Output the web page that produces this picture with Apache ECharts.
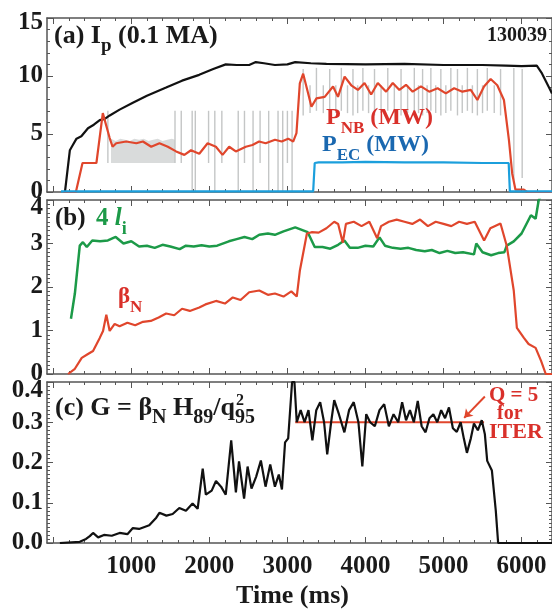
<!DOCTYPE html>
<html><head><meta charset="utf-8">
<script src="https://cdn.jsdelivr.net/npm/echarts@6/dist/echarts.min.js"></script>
<style>html,body{margin:0;padding:0;background:#fff}#c{width:552px;height:610px}</style>
</head><body><div id="c"></div>
<script>
const F = 'Liberation Serif';
const RED = '#e0462c', BLUE = '#1b9fdc', GREEN = '#1c9a48', GRAY = '#c4c6c6';
const TXT_RED = '#d9302a', TXT_BLUE = '#1a68b0';

// x axis ticks
const xTickMajor = [0, 1000, 2000, 3000, 4000, 5000, 6000];
const xLabels = [1000, 2000, 3000, 4000, 5000, 6000];
const xMinor = [200, 400, 600, 800, 1200, 1400, 1600, 1800, 2200, 2400, 2600, 2800, 3200, 3400, 3600, 3800, 4200, 4400, 4600, 4800, 5200, 5400, 5600, 5800, 6200];

// (a) plasma current Ip (0.1 MA)
const ipT = [150, 213, 238, 298, 360, 445, 520, 596, 660, 724, 850, 1020, 1200, 1446, 1650, 1870, 2050, 2210, 2350, 2510, 2595, 2700, 2840, 3000, 3100, 3300, 3500, 4000, 4500, 5000, 5500, 5800, 6000, 6195, 6255, 6360, 6390];
const ipV = [0, 3.6, 3.9, 4.6, 4.8, 5.5, 5.8, 6.2, 6.3, 6.6, 7.1, 7.7, 8.3, 9.0, 9.6, 10.1, 10.6, 11.0, 10.95, 10.95, 11.2, 11.1, 10.95, 11.0, 11.2, 11.1, 11.05, 11.0, 11.05, 10.95, 10.95, 10.9, 10.85, 10.9, 10.3, 8.9, 8.5];

// (a) P_NB (MW)
const nbT = [130, 290, 375, 553, 635, 723, 760, 807, 935, 1064, 1149, 1255, 1361, 1468, 1574, 1680, 1765, 1871, 1978, 2084, 2169, 2254, 2339, 2467, 2552, 2637, 2722, 2841, 2926, 3010, 3074, 3116, 3159, 3202, 3266, 3308, 3372, 3478, 3585, 3648, 3733, 3818, 3903, 3988, 4073, 4158, 4265, 4350, 4435, 4520, 4605, 4711, 4817, 4924, 5030, 5136, 5242, 5349, 5434, 5519, 5604, 5689, 5774, 5838, 5880, 5922, 6029, 6071, 6390];
const nbV = [0, 0, 2.5, 2.5, 6.8, 4.65, 3.9, 4.2, 4.35, 4.2, 4.35, 3.9, 4.2, 3.9, 3.5, 3.2, 3.6, 3.3, 4.2, 3.9, 3.2, 3.9, 3.5, 3.9, 4.05, 4.35, 4.2, 4.5, 4.35, 4.6, 4.35, 5.07, 9.37, 10.2, 8.5, 7.35, 8.07, 8.2, 9.1, 8.2, 9.94, 9.2, 8.8, 9.4, 8.4, 9.4, 8.65, 9.4, 8.8, 9.24, 8.65, 9.1, 8.65, 8.94, 8.5, 8.94, 8.65, 8.8, 7.93, 9.1, 9.74, 9.2, 7.93, 4.5, 1.6, 0.2, 0.2, 0, 0];

// (a) P_EC (MW)
const ecT = [100, 3330, 3350, 3400, 3700, 4000, 4500, 5000, 5500, 5835, 5850, 6390];
const ecV = [0.05, 0.05, 2.5, 2.55, 2.55, 2.6, 2.55, 2.55, 2.5, 2.5, 0.05, 0.05];

// (a) raw modulated NB power (grey): dense band and individual pulses
const bandT = [740, 800, 860, 920, 980, 1040, 1100, 1160, 1220, 1280, 1340, 1400, 1460, 1520, 1560];
const bandLo = [2.5, 2.5, 2.5, 2.5, 2.5, 2.5, 2.5, 2.5, 2.5, 2.5, 2.5, 2.5, 2.5, 2.5, 2.5];
const bandHi = [4.6, 4.4, 4.6, 4.5, 4.4, 4.6, 4.5, 4.6, 4.4, 4.5, 4.6, 4.4, 4.5, 4.6, 4.5];
const pulseT = [700, 1560, 1640, 1780, 1820, 1990, 2070, 2160, 2370, 2450, 2560, 2650, 2760, 2880, 2940, 3000, 3060,
  3202, 3290, 3372, 3460, 3542, 3620, 3691, 3770, 3840, 3900, 3967, 4040, 4116, 4200, 4286, 4370, 4456, 4540, 4626, 4680, 4732, 4790, 4838, 4900, 4966, 5030, 5094, 5179, 5240, 5306, 5370, 5434, 5500, 5561, 5650, 5731, 5901, 6008];
const pulseLo = [2.5, 2.5, 2.5, 0, 0, 2.5, 0, 2.5, 0, 2.5, 0, 2.5, 0, 0, 0, 2.5, 0,
  6.6, 6.8, 7.0, 6.8, 6.6, 6.8, 7.0, 6.8, 6.6, 6.8, 7.0, 6.8, 6.6, 6.8, 7.0, 6.8, 6.6, 6.8, 7.0, 6.8, 6.6, 6.8, 7.0, 6.8, 6.6, 6.8, 7.0, 6.6, 6.8, 7.0, 6.8, 6.6, 6.8, 7.0, 6.8, 6.6, 1.0, 1.2];
const pulseHi = [7.0, 7.0, 7.0, 7.0, 7.0, 7.0, 7.0, 7.0, 7.0, 7.0, 7.0, 7.0, 7.0, 7.0, 7.0, 7.0, 7.0,
  10.6, 9.2, 10.7, 9.2, 10.6, 9.2, 10.7, 9.2, 10.6, 9.2, 10.7, 9.2, 10.6, 9.2, 10.7, 9.2, 10.6, 9.2, 10.7, 9.2, 10.6, 9.2, 10.7, 9.2, 10.6, 9.2, 10.7, 10.6, 9.2, 10.7, 9.2, 10.6, 9.2, 10.7, 9.2, 10.6, 10.7, 10.6];

// (b) 4 li
const liT = [227, 277, 340, 380, 430, 500, 600, 700, 800, 900, 1000, 1100, 1200, 1300, 1400, 1500, 1620, 1700, 1800, 1900, 2000, 2100, 2250, 2350, 2450, 2550, 2640, 2750, 2840, 2950, 3100, 3260, 3350, 3450, 3550, 3650, 3730, 3800, 3900, 4000, 4100, 4180, 4250, 4350, 4450, 4550, 4650, 4760, 4850, 4950, 5050, 5150, 5250, 5390, 5420, 5500, 5610, 5700, 5780, 5810, 5900, 6000, 6120, 6180, 6220, 6300];
const liV = [1.27, 1.85, 2.95, 3.03, 2.92, 3.07, 3.05, 3.07, 3.15, 3.0, 3.05, 2.93, 2.95, 2.9, 2.97, 2.93, 2.87, 2.95, 2.93, 2.96, 2.93, 2.95, 3.05, 3.1, 3.15, 3.1, 3.2, 3.23, 3.2, 3.28, 3.37, 3.26, 2.92, 2.92, 2.88, 2.97, 3.07, 2.9, 2.9, 2.95, 2.93, 3.14, 2.95, 2.9, 2.88, 2.9, 2.85, 2.82, 2.85, 2.78, 2.83, 2.78, 2.8, 2.75, 3.0, 2.8, 2.73, 2.78, 2.8, 2.95, 3.05, 3.23, 3.65, 3.57, 4.0, 4.25];

// (b) beta_N
const betaT = [190, 277, 365, 445, 510, 596, 638, 680, 723, 787, 850, 950, 1050, 1150, 1250, 1350, 1446, 1550, 1650, 1750, 1871, 1950, 2085, 2200, 2300, 2400, 2510, 2640, 2750, 2840, 2950, 3050, 3120, 3160, 3250, 3310, 3400, 3500, 3600, 3650, 3710, 3750, 3850, 3950, 4050, 4150, 4200, 4300, 4400, 4500, 4600, 4700, 4800, 4900, 5000, 5100, 5200, 5300, 5400, 5520, 5600, 5730, 5810, 5900, 5940, 6030, 6090, 6180, 6250, 6310, 6390];
const betaV = [0, 0.12, 0.37, 0.46, 0.53, 0.83, 0.99, 1.36, 0.99, 1.15, 1.1, 1.18, 1.12, 1.2, 1.22, 1.3, 1.39, 1.35, 1.5, 1.45, 1.53, 1.6, 1.68, 1.62, 1.76, 1.7, 1.88, 1.92, 1.82, 1.85, 1.78, 1.9, 1.78, 2.38, 3.23, 3.26, 3.25, 3.35, 3.5, 3.45, 3.02, 3.45, 3.5, 3.4, 3.5, 3.12, 3.4, 3.5, 3.55, 3.5, 3.45, 3.55, 3.4, 3.5, 3.45, 3.4, 3.5, 3.45, 3.5, 3.07, 3.35, 3.46, 2.95, 1.92, 1.06, 0.83, 0.69, 0.6, 0.3, 0, 0];

// (c) G = beta_N H89 / q95^2
const gT = [85, 340, 420, 468, 510, 575, 650, 750, 850, 950, 1020, 1100, 1230, 1320, 1360, 1450, 1530, 1615, 1700, 1785, 1850, 1915, 1955, 2030, 2085, 2150, 2210, 2280, 2340, 2380, 2445, 2490, 2540, 2600, 2660, 2720, 2780, 2840, 2890, 2930, 2970, 3010, 3060, 3090, 3120, 3170, 3220, 3270, 3320, 3370, 3420, 3470, 3510, 3560, 3600, 3660, 3730, 3790, 3850, 3910, 3960, 4010, 4060, 4120, 4180, 4240, 4300, 4360, 4420, 4470, 4520, 4570, 4620, 4670, 4720, 4770, 4820, 4870, 4920, 4970, 5020, 5070, 5120, 5170, 5220, 5260, 5300, 5350, 5390, 5440, 5490, 5530, 5560, 5620, 5670, 5700, 6390];
const gV = [0, 0.003, 0.01, 0.017, 0.025, 0.014, 0.02, 0.018, 0.025, 0.022, 0.037, 0.035, 0.044, 0.063, 0.075, 0.068, 0.072, 0.087, 0.08, 0.098, 0.085, 0.185, 0.12, 0.13, 0.154, 0.14, 0.12, 0.255, 0.126, 0.203, 0.11, 0.19, 0.135, 0.165, 0.205, 0.14, 0.195, 0.14, 0.17, 0.133, 0.25, 0.26, 0.4, 0.4, 0.3, 0.33, 0.3, 0.33, 0.255, 0.33, 0.35, 0.3, 0.22, 0.3, 0.355, 0.32, 0.275, 0.33, 0.35, 0.3, 0.19, 0.32, 0.3, 0.29, 0.33, 0.345, 0.29, 0.32, 0.3, 0.35, 0.305, 0.33, 0.3, 0.353, 0.29, 0.275, 0.31, 0.32, 0.3, 0.33, 0.31, 0.337, 0.285, 0.276, 0.3, 0.26, 0.224, 0.26, 0.297, 0.28, 0.305, 0.27, 0.204, 0.18, 0.08, 0, 0];

// Q = 5 for ITER reference level
const qT = [3100, 5520];
const qV = [0.3, 0.3];
const arrowFrom = [5530, 0.364];
const arrowTo = [5265, 0.311];

const zip = (a, b) => a.map((t, i) => [t, b[i]]);

const chart = echarts.init(document.getElementById('c'), null, {renderer: 'canvas'});

const AX = '#555';
const XMIN = -80, XMAX = 6390;
const grids = [
  {left: 47, top: 18, width: 507, height: 174},
  {left: 47, top: 200, width: 507, height: 174},
  {left: 47, top: 382, width: 507, height: 173}
];
const labelFont = {fontFamily: F, fontWeight: 'bold', fontSize: 25, color: '#1a1a1a'};

const xAxis = [];
grids.forEach((g, i) => {
  const base = {type: 'value', gridIndex: i, min: XMIN, max: XMAX, splitLine: {show: false}};
  xAxis.push(Object.assign({}, base, {
    position: 'bottom',
    axisLine: {show: true, onZero: false, lineStyle: {color: AX, width: 1.5}},
    axisTick: {show: true, inside: true, length: 6, customValues: xTickMajor, lineStyle: {color: AX, width: 1}},
    axisLabel: Object.assign({show: i === 2, customValues: xLabels, margin: 11, formatter: v => String(v)}, labelFont),
    name: i === 2 ? 'Time (ms)' : '',
    nameLocation: 'middle', nameGap: 40,
    nameTextStyle: {fontFamily: F, fontWeight: 'bold', fontSize: 26, color: '#1a1a1a', padding: [0, 14, 0, 0]}
  }));
  xAxis.push(Object.assign({}, base, {
    position: 'bottom', axisLine: {show: false, onZero: false},
    axisTick: {show: true, inside: true, length: 3, customValues: xMinor, lineStyle: {color: AX, width: 1}},
    axisLabel: {show: false}
  }));
  xAxis.push(Object.assign({}, base, {
    position: 'top',
    axisLine: {show: true, onZero: false, lineStyle: {color: AX, width: 1.5}},
    axisTick: {show: true, inside: true, length: 6, customValues: xTickMajor, lineStyle: {color: AX, width: 1}},
    axisLabel: {show: false}
  }));
  xAxis.push(Object.assign({}, base, {
    position: 'top', axisLine: {show: false, onZero: false},
    axisTick: {show: true, inside: true, length: 3, customValues: xMinor, lineStyle: {color: AX, width: 1}},
    axisLabel: {show: false}
  }));
});

const yDefs = [
  {min: 0, max: 15, interval: 5, minor: 5, fmt: v => v === 15 ? '{t|15}' : String(v), pad: 10},
  {min: 0, max: 4, interval: 1, minor: 10, fmt: v => v === 4 ? '{t|4}' : String(v), pad: 16},
  {min: 0, max: 0.4, interval: 0.1, minor: 10, fmt: v => Math.abs(v - 0.4) < 1e-9 ? '{t|0.4}' : v.toFixed(1), pad: 18}
];
const yAxis = [];
yDefs.forEach((d, i) => {
  const base = {type: 'value', gridIndex: i, min: d.min, max: d.max, interval: d.interval, splitLine: {show: false},
    minorTick: {show: true, splitNumber: d.minor, length: 3, lineStyle: {color: AX, width: 1}},
    axisTick: {show: true, inside: true, length: 6, lineStyle: {color: AX, width: 1}}};
  yAxis.push(Object.assign({}, base, {
    position: 'left',
    axisLine: {show: true, onZero: false, lineStyle: {color: AX, width: 1.5}},
    axisLabel: Object.assign({show: true, margin: 4, formatter: d.fmt,
      rich: {t: Object.assign({padding: [d.pad, 0, 0, 0]}, labelFont)}}, labelFont)
  }));
  yAxis.push(Object.assign({}, base, {
    position: 'right',
    axisLine: {show: true, onZero: false, lineStyle: {color: AX, width: 1.5}},
    axisLabel: {show: false}
  }));
});

const lineS = (name, xi, yi, data, color, width, z) => ({
  name, type: 'line', xAxisIndex: xi, yAxisIndex: yi, data, showSymbol: false, symbol: 'none',
  lineStyle: {color, width}, z: z || 2, animation: false, clip: true
});

const series = [
  {
    type: 'custom', xAxisIndex: 0, yAxisIndex: 0, z: 1, animation: false,
    data: [0],
    renderItem: (params, api) => {
      const pts = [];
      bandT.forEach((t, i) => pts.push(api.coord([t, bandHi[i]])));
      for (let i = bandT.length - 1; i >= 0; i--) pts.push(api.coord([bandT[i], bandLo[i]]));
      return {type: 'polygon', shape: {points: pts}, style: {fill: '#d9dbdb'}};
    }
  },
  {
    type: 'custom', xAxisIndex: 0, yAxisIndex: 0, z: 1, animation: false,
    data: pulseT.map((t, i) => [t, pulseLo[i], pulseHi[i]]),
    renderItem: (params, api) => {
      const a = api.coord([api.value(0), api.value(1)]);
      const b = api.coord([api.value(0), api.value(2)]);
      return {type: 'line', shape: {x1: a[0], y1: a[1], x2: b[0], y2: b[1]}, style: {stroke: GRAY, lineWidth: 1.4}};
    }
  },
  lineS('Ip', 0, 0, zip(ipT, ipV), '#111', 2.2, 3),
  lineS('PNB', 0, 0, zip(nbT, nbV), RED, 2.2, 4),
  lineS('PEC', 0, 0, zip(ecT, ecV), BLUE, 2.2, 5),
  lineS('li', 4, 2, zip(liT, liV), GREEN, 2.5, 3),
  lineS('betaN', 4, 2, zip(betaT, betaV), RED, 2.2, 4),
  Object.assign(lineS('Q5', 8, 4, zip(qT, qV), RED, 2, 3), {
    markLine: {silent: true, symbol: ['none', 'arrow'], symbolSize: 8, label: {show: false},
      lineStyle: {color: RED, width: 2, type: 'solid'}, animation: false,
      data: [[{coord: arrowFrom}, {coord: arrowTo}]]}
  }),
  lineS('G', 8, 4, zip(gT, gV), '#111', 2.2, 4)
];

const mainTok = (size) => ({fontFamily: F, fontWeight: 'bold', fontSize: size, lineHeight: size + 7, verticalAlign: 'top'});
const subTok = (size) => ({fontFamily: F, fontWeight: 'bold', fontSize: size, verticalAlign: 'bottom'});

function rtext(x, y, text, color, size, subSize, extraRich) {
  const rich = {m: Object.assign(mainTok(size), {color}), s: Object.assign(subTok(subSize), {color})};
  if (extraRich) Object.assign(rich, extraRich);
  return {type: 'text', left: x, top: y, z: 100, style: {text, rich, fill: color, font: `bold ${size}px "${F}"`}};
}

// measure where the "95" subscript starts, to put the superscript 2 above it
const ctx = document.createElement('canvas').getContext('2d');
const mw = (s, size) => { ctx.font = `bold ${size}px "${F}"`; return ctx.measureText(s).width; };
const cX = 55;
const supX = cX + mw('(c) G = β', 26) + mw('N', 20) + mw(' H', 26) + mw('89', 20) + mw('/q', 26) + 1;

const graphic = [
  rtext(54, 23, '{m|(a) I}{s|p}{m| (0.1 MA)}', '#1a1a1a', 26, 19),
  {type: 'text', right: 5, top: 26, z: 100, style: {text: '130039', fill: '#1a1a1a', font: `bold 20px "${F}"`}},
  rtext(326, 106, '{m|P}{s|NB}{m| (MW)}', TXT_RED, 24, 17),
  rtext(322, 133, '{m|P}{s|EC}{m| (MW)}', TXT_BLUE, 24, 17),
  rtext(55, 206, '{m|(b) }', '#1a1a1a', 25, 18),
  rtext(96, 206, '{m|4 }{l|l}{s|i}', GREEN, 25, 18, {l: Object.assign(mainTok(25), {color: GREEN, fontStyle: 'italic'})}),
  rtext(118, 286, '{m|β}{s|N}', TXT_RED, 23, 17),
  rtext(cX, 395, '{m|(c) G = β}{s|N}{m| H}{s|89}{m|/q}{s|95}', '#1a1a1a', 26, 20),
  {type: 'text', left: supX, top: 393, z: 100, style: {text: '2', fill: '#1a1a1a', font: `bold 16px "${F}"`}},
  {type: 'text', left: 489, top: 385, z: 100, style: {text: 'Q = 5', fill: TXT_RED, font: `bold 21px "${F}"`}},
  {type: 'text', left: 497, top: 404, z: 100, style: {text: 'for', fill: TXT_RED, font: `bold 20px "${F}"`}},
  {type: 'text', left: 489, top: 421, z: 100, style: {text: 'ITER', fill: TXT_RED, font: `bold 22px "${F}"`}}
];

chart.setOption({
  backgroundColor: '#fff',
  animation: false,
  grid: grids,
  xAxis, yAxis, series, graphic
});
</script></body></html>
